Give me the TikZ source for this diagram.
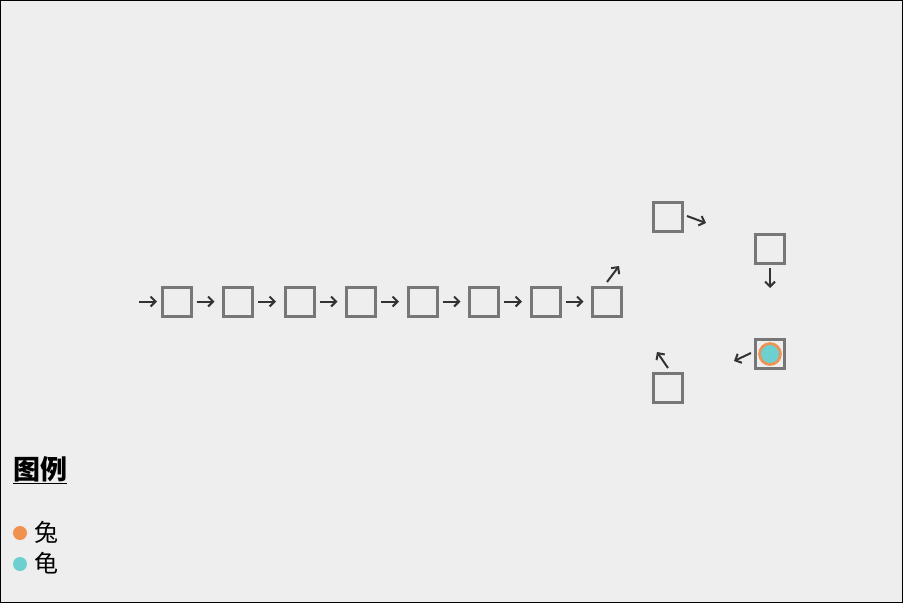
\documentclass[tikz,border=0pt]{standalone}
\usepackage{fontspec}
\newfontfamily\cjk{Noto Sans CJK SC}
\usetikzlibrary{arrows.meta}
\definecolor{bg}{HTML}{EEEEEE}
\definecolor{boxgray}{HTML}{777777}
\definecolor{arrowc}{HTML}{333333}
\definecolor{hare}{HTML}{F0914F}
\definecolor{turtle}{HTML}{6CCFD0}
\tikzset{
  cell/.style={draw=boxgray, line width=3pt, minimum size=29pt, inner sep=0pt, fill=bg},
  mv/.style={draw=arrowc, line width=2pt, -{Straight Barb[length=5pt,width=10pt,line width=2pt]}},
  legtxt/.style={font=\cjk\fontsize{24}{26}\selectfont, anchor=west, inner sep=0pt},
}
\begin{document}
\begin{tikzpicture}[x=1pt,y=-1pt]
\useasboundingbox (0,0) rectangle (903,603);
\fill[bg] (0,0) rectangle (903,603);
\draw[black, line width=1.2pt] (0.6,0.6) rectangle (902.4,602.4);
% straight row
\foreach \i/\x in {1/176.5,2/238,3/299.5,4/361,5/422.5,6/484,7/545.5,8/607}{
  \node[cell] (c\i) at (\x,301.5) {};
}
\coordinate (a0s) at (139,301.5); \coordinate (a0e) at (157,301.5);
\draw[mv] (a0s) -- (a0e);
\foreach \i in {1,...,7}{
  \coordinate (s\i) at ([xshift=4pt]c\i.east);
  \coordinate (e\i) at ([xshift=22pt]c\i.east);
  \draw[mv] (s\i) -- (e\i);
}
% ring
\node[cell] (r1) at (668,216.5) {};
\node[cell] (r2) at (770,249) {};
\node[cell] (r3) at (770,354) {};
\node[cell] (r4) at (668,387.5) {};
\node[circle, fill=turtle, draw=hare, line width=2.6pt, minimum size=21pt, inner sep=0pt] (tok) at (770,354) {};
\coordinate (b0s) at (607,282); \coordinate (b0e) at (619,266);
\draw[mv] (b0s) -- (b0e);
\coordinate (b1s) at (687,216); \coordinate (b1e) at (706,223);
\draw[mv] (b1s) -- (b1e);
\coordinate (b2s) at (770,268); \coordinate (b2e) at (770,288);
\draw[mv] (b2s) -- (b2e);
\coordinate (b3s) at (751,353); \coordinate (b3e) at (734,361);
\draw[mv] (b3s) -- (b3e);
\coordinate (b4s) at (668,368); \coordinate (b4e) at (657,352);
\draw[mv] (b4s) -- (b4e);
% legend
\node[font=\cjk\bfseries\fontsize{27}{29}\selectfont, anchor=west, inner sep=0pt] (leg) at (13,470) {\underline{图例}};
\node[circle, fill=hare, minimum size=14pt, inner sep=0pt] (d1) at (20,533) {};
\node[legtxt] (t1) at (34,532) {兔};
\node[circle, fill=turtle, minimum size=14pt, inner sep=0pt] (d2) at (20,564) {};
\node[legtxt] (t2) at (34,563) {龟};
\end{tikzpicture}
\end{document}
